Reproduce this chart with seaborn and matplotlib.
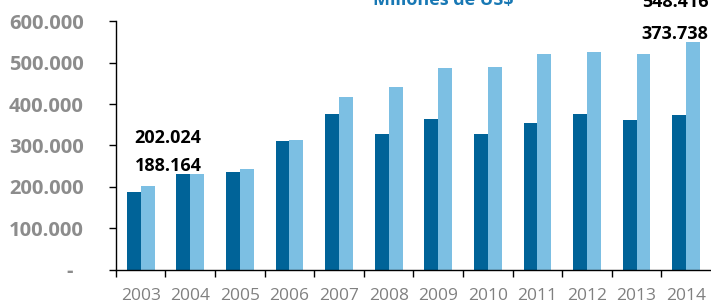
import numpy as np
import pandas as pd
import matplotlib
matplotlib.use("Agg")
import matplotlib.pyplot as plt
import seaborn as sns
from matplotlib.ticker import FixedLocator

# data (millions of US$)
years = ["2003", "2004", "2005", "2006", "2007", "2008", "2009",
         "2010", "2011", "2012", "2013", "2014"]
serie_oscura = [188164, 231000, 237000, 311500, 376500, 327700, 364600,
                327700, 354000, 375000, 360700, 373738]
serie_clara = [202024, 231000, 243000, 313000, 417600, 441700, 486000,
               489000, 519700, 526000, 520000, 548416]
titulo = "Millones de US$"

df = pd.DataFrame({
    "anio": years * 2,
    "valor": serie_oscura + serie_clara,
    "serie": ["oscura"] * len(years) + ["clara"] * len(years),
})

sns.set_style("white")
plt.rcParams["font.family"] = ["Open Sans", "DejaVu Sans"]

fig = plt.figure(figsize=(7.11, 3.05), dpi=100)
ax = fig.add_axes([0.163, 0.115, 0.837, 0.816])

sns.barplot(data=df, x="anio", y="valor", hue="serie",
            palette={"oscura": "#006398", "clara": "#7cbfe3"},
            width=0.56, gap=0, saturation=1, linewidth=0,
            legend=False, ax=ax)

ax.set_xlim(-0.5, 11.5)
ax.set_ylim(0, 600000)
ax.set_xlabel("")
ax.set_ylabel("")

for s in ["top", "right"]:
    ax.spines[s].set_visible(False)
for s in ["left", "bottom"]:
    ax.spines[s].set_color("black")
    ax.spines[s].set_linewidth(1)

def fmt(v):
    return f"{int(v):,}".replace(",", ".")

yt = np.arange(0, 600001, 100000)
ax.set_yticks(yt)
ax.set_yticklabels(["-\u00a0\u00a0" if v == 0 else fmt(v) for v in yt],
                   fontweight="bold")
ax.tick_params(axis="y", which="major", length=5, width=1, color="black",
               direction="out", left=True, pad=18, labelsize=14.5,
               labelcolor="#8c8c8c")

ax.tick_params(axis="x", which="major", length=0, pad=13, labelsize=12.5,
               labelcolor="#808080")
ax.xaxis.set_minor_locator(FixedLocator(np.arange(-0.5, 11.0, 1.0)))
ax.tick_params(axis="x", which="minor", length=5, width=1, color="black",
               direction="out", bottom=True)

# value labels
lab = dict(fontsize=13, fontweight="bold", color="black", clip_on=False)
ax.text(-0.12, serie_oscura[0] + 51000, fmt(serie_oscura[0]),
        ha="left", va="baseline", **lab)
ax.text(-0.12, serie_clara[0] + 104000, fmt(serie_clara[0]),
        ha="left", va="baseline", **lab)
ax.text(11.45, 556000, fmt(serie_oscura[-1]),
        ha="right", va="baseline", **lab)
ax.text(11.45, 633000, fmt(serie_clara[-1]),
        ha="right", va="baseline", **lab)

fig.text(0.624, 0.985, titulo, ha="center", va="baseline", fontsize=13,
         fontweight="bold", color="#1878b4")

fig.savefig("out.png", dpi=100)
